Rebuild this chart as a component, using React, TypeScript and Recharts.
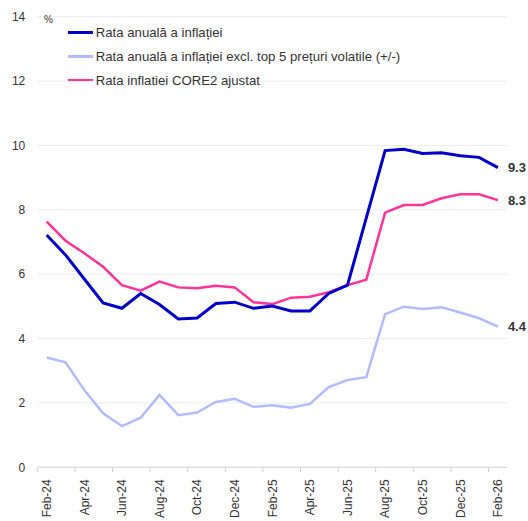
import React from 'react';
import { LineChart, Line, XAxis, YAxis, CartesianGrid, Legend } from 'recharts';

const months = ['Feb-24','Mar-24','Apr-24','May-24','Jun-24','Jul-24','Aug-24','Sep-24','Oct-24','Nov-24','Dec-24','Jan-25','Feb-25','Mar-25','Apr-25','May-25','Jun-25','Jul-25','Aug-25','Sep-25','Oct-25','Nov-25','Dec-25','Jan-26','Feb-26'];

const headline = [7.22, 6.6, 5.85, 5.11, 4.94, 5.40, 5.06, 4.61, 4.64, 5.09, 5.13, 4.94, 5.01, 4.86, 4.86, 5.40, 5.66, 7.75, 9.84, 9.88, 9.75, 9.77, 9.68, 9.63, 9.31];
const exclVolatile = [3.41, 3.26, 2.40, 1.68, 1.28, 1.54, 2.25, 1.62, 1.70, 2.03, 2.13, 1.88, 1.93, 1.85, 1.97, 2.49, 2.71, 2.80, 4.76, 4.99, 4.92, 4.97, 4.81, 4.63, 4.37];
const core2 = [7.63, 7.04, 6.65, 6.23, 5.66, 5.49, 5.77, 5.59, 5.56, 5.64, 5.59, 5.13, 5.07, 5.27, 5.30, 5.44, 5.66, 5.83, 7.91, 8.15, 8.15, 8.36, 8.48, 8.48, 8.30];

const yTicks = [0, 2, 4, 6, 8, 10, 12, 14];

const seriesNames = {
  headline: 'Rata anuală a inflației',
  excl: 'Rata anuală a inflației excl. top 5 prețuri volatile (+/-)',
  core2: 'Rata inflatiei CORE2 ajustat',
};

const COLORS = { headline: '#0000c8', excl: '#b3bbff', core2: '#ff3399' };

const data = months.map((m, i) => ({
  month: m,
  headline: headline[i],
  excl: exclVolatile[i],
  core2: core2[i],
}));

const FONT = '"Liberation Sans", Arial, sans-serif';
const CHART_W = 520;
const CHART_H = 505;
const MARGIN = { top: 8.7, right: 20.7, left: 0, bottom: 0 };
const Y_W = 29.3;
const X_H = 45.7;
const PLOT_W = CHART_W - MARGIN.right - MARGIN.left - Y_W;
const BAND = PLOT_W / months.length;

const XTick = (props: any) => {
  const { x, y, payload } = props;
  return (
    <g>
      <line x1={x - BAND / 2} x2={x - BAND / 2} y1={y - 2} y2={y + 3} stroke="#d0d0d0" strokeWidth={1} />
      <text
        transform={`translate(${x},${y + 10}) rotate(-90)`}
        textAnchor="end"
        dy="0.35em"
        fontSize={12}
        fontFamily={FONT}
        fill="#333"
      >
        {payload.value}
      </text>
    </g>
  );
};

const endLabel = (props: any) => {
  const { x, y, index, value } = props;
  if (index !== months.length - 1) return <g />;
  return (
    <text x={x + 10} y={y} dy="0.35em" fontSize={13} fontWeight="bold" fontFamily={FONT} fill="#333">
      {Number(value).toFixed(1)}
    </text>
  );
};

const LegendContent = () => {
  const rows = [
    { key: 'headline', h: 3 },
    { key: 'excl', h: 2.5 },
    { key: 'core2', h: 2.5 },
  ];
  const centers = [24.3, 48.7, 72];
  return (
    <div style={{ position: 'relative', width: 420, height: 90, fontFamily: FONT, color: '#333' }}>
      <span style={{ position: 'absolute', left: 0, top: 6, fontSize: 10, lineHeight: '12px' }}>%</span>
      {rows.map((r, i) => (
        <div
          key={r.key}
          style={{
            position: 'absolute',
            left: 23.7,
            top: centers[i] - 8,
            height: 16,
            display: 'flex',
            alignItems: 'center',
            whiteSpace: 'nowrap',
          }}
        >
          <span style={{ display: 'inline-block', width: 25, height: r.h, background: (COLORS as any)[r.key] }} />
          <span style={{ marginLeft: 3, fontSize: 13.2 }}>{(seriesNames as any)[r.key]}</span>
        </div>
      ))}
    </div>
  );
};

const CSS =
  'html,body,#root{overflow:visible !important;contain:none !important;clip-path:none !important}' +
  ' svg.recharts-surface{overflow:visible !important}' +
  ' .recharts-wrapper{overflow:visible !important}';

export default function App() {
  return (
    <div style={{ width: CHART_W, height: CHART_H, overflow: 'visible' }}>
      <style>{CSS}</style>
      <LineChart width={CHART_W} height={CHART_H} data={data} margin={MARGIN}>
        <CartesianGrid vertical={false} stroke="#ececec" />
        <XAxis
          dataKey="month"
          interval={1}
          tickLine={false}
          tickSize={0}
          axisLine={{ stroke: '#d6d6d6' }}
          height={X_H}
          padding={{ left: BAND / 2, right: BAND / 2 }}
          tick={<XTick />}
        />
        <YAxis
          width={Y_W}
          domain={[0, 14]}
          ticks={yTicks}
          tickLine={false}
          axisLine={false}
          tickSize={0}
          tickMargin={12}
          tick={{ fontSize: 12, fontFamily: FONT, fill: '#333' }}
        />
        <Legend
          layout="horizontal"
          verticalAlign="middle"
          align="center"
          content={<LegendContent />}
          wrapperStyle={{ left: 36, top: 0, width: 420 }}
        />
        <Line type="linear" dataKey="excl" name={seriesNames.excl} stroke={COLORS.excl} strokeWidth={2.5} dot={false} isAnimationActive={false} label={endLabel} />
        <Line type="linear" dataKey="core2" name={seriesNames.core2} stroke={COLORS.core2} strokeWidth={2.5} dot={false} isAnimationActive={false} label={endLabel} />
        <Line type="linear" dataKey="headline" name={seriesNames.headline} stroke={COLORS.headline} strokeWidth={3} dot={false} isAnimationActive={false} label={endLabel} />
      </LineChart>
    </div>
  );
}
